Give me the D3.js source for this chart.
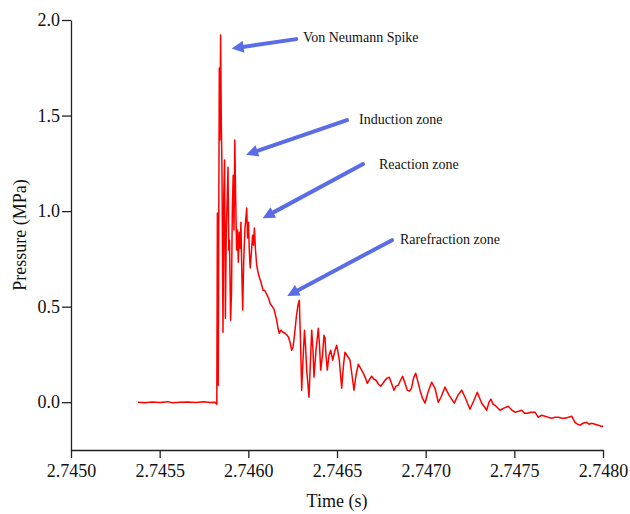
<!DOCTYPE html>
<html>
<head>
<meta charset="utf-8">
<script src="https://cdn.jsdelivr.net/npm/d3@7"></script>
<style>
  html, body { margin: 0; padding: 0; background: #fff; }
  svg text { font-family: "Liberation Serif", "Times New Roman", serif; fill: #111; }
</style>
</head>
<body>
<div id="chart"></div>
<script>
// time (s) and pressure (MPa)
const time = [
  2.7453778, 2.7454173, 2.7454568, 2.7455019, 2.7455470, 2.7455695, 2.7456147, 2.7456598,
  2.7457049, 2.7457500, 2.7457838, 2.7458120, 2.7458222, 2.7458255, 2.7458301, 2.7458363,
  2.7458396, 2.7458436, 2.7458475, 2.7458515, 2.7458571, 2.7458616, 2.7458661, 2.7458707,
  2.7458757, 2.7458808, 2.7458853, 2.7458898, 2.7458938, 2.7459000, 2.7459051, 2.7459096,
  2.7459146, 2.7459192, 2.7459237, 2.7459287, 2.7459338, 2.7459389, 2.7459434, 2.7459490,
  2.7459547, 2.7459581, 2.7459631, 2.7459682, 2.7459739, 2.7459812, 2.7459908, 2.7459958,
  2.7460009, 2.7460054, 2.7460105, 2.7460161, 2.7460240, 2.7460291, 2.7460342, 2.7460404,
  2.7460472, 2.7460545, 2.7460618, 2.7460714, 2.7460827, 2.7460911, 2.7461035, 2.7461137,
  2.7461222, 2.7461334, 2.7461447, 2.7461599, 2.7461673, 2.7461746, 2.7461842, 2.7461955,
  2.7462067, 2.7462180, 2.7462265, 2.7462350, 2.7462445, 2.7462519, 2.7462603, 2.7462716,
  2.7462801, 2.7462874, 2.7462941, 2.7463009, 2.7463082, 2.7463167, 2.7463223, 2.7463291,
  2.7463421, 2.7463505, 2.7463573, 2.7463646, 2.7463703, 2.7463816, 2.7463945, 2.7464013,
  2.7464081, 2.7464182, 2.7464267, 2.7464323, 2.7464379, 2.7464453, 2.7464549, 2.7464644,
  2.7464757, 2.7464887, 2.7464983, 2.7465056, 2.7465130, 2.7465265, 2.7465366, 2.7465451,
  2.7465592, 2.7465733, 2.7465846, 2.7465958, 2.7466071, 2.7466201, 2.7466325, 2.7466483,
  2.7466607, 2.7466708, 2.7466832, 2.7466956, 2.7467086, 2.7467199, 2.7467340, 2.7467464,
  2.7467594, 2.7467706, 2.7467819, 2.7467949, 2.7468073, 2.7468214, 2.7468327, 2.7468456,
  2.7468580, 2.7468705, 2.7468834, 2.7468964, 2.7469088, 2.7469201, 2.7469314, 2.7469438,
  2.7469567, 2.7469680, 2.7469821, 2.7469962, 2.7470131, 2.7470340, 2.7470526, 2.7470712,
  2.7470864, 2.7471090, 2.7471315, 2.7471614, 2.7471823, 2.7472032, 2.7472246, 2.7472500,
  2.7472725, 2.7472911, 2.7473159, 2.7473289, 2.7473441, 2.7473571, 2.7473684, 2.7473797,
  2.7473909, 2.7474191, 2.7474417, 2.7474659, 2.7474868, 2.7475037, 2.7475235, 2.7475415,
  2.7475573, 2.7475731, 2.7475939, 2.7476165, 2.7476351, 2.7476531, 2.7476729, 2.7476898,
  2.7477107, 2.7477293, 2.7477479, 2.7477687, 2.7477857, 2.7478054, 2.7478234, 2.7478421,
  2.7478562, 2.7478703, 2.7478872, 2.7479080, 2.7479210, 2.7479362, 2.7479548, 2.7479734,
  2.7479887, 2.7480000
];
const pressure = [
  0.000, -0.003, 0.001, -0.001, 0.003, -0.003, 0.000, 0.001,
  -0.002, 0.002, -0.001, 0.000, -0.010, 0.990, 0.089, 1.749,
  1.372, 1.921, 1.476, 1.199, 0.366, 1.084, 1.267, 0.440,
  0.901, 1.058, 1.230, 0.796, 0.848, 0.429, 0.576, 1.005,
  1.188, 0.901, 1.372, 1.058, 0.796, 0.901, 0.733, 0.890,
  0.806, 0.942, 0.691, 0.482, 0.743, 0.911, 1.016, 0.859,
  0.942, 0.796, 0.702, 0.770, 0.874, 0.822, 0.911, 0.796,
  0.717, 0.681, 0.654, 0.628, 0.586, 0.586, 0.565, 0.545,
  0.518, 0.503, 0.487, 0.429, 0.387, 0.361, 0.377, 0.366,
  0.361, 0.351, 0.340, 0.314, 0.272, 0.288, 0.351, 0.455,
  0.508, 0.534, 0.325, 0.063, 0.220, 0.377, 0.298, 0.168,
  0.026, 0.220, 0.377, 0.272, 0.131, 0.272, 0.387, 0.298,
  0.168, 0.246, 0.351, 0.335, 0.246, 0.168, 0.246, 0.272,
  0.220, 0.272, 0.298, 0.262, 0.220, 0.073, 0.194, 0.262,
  0.241, 0.220, 0.141, 0.063, 0.141, 0.199, 0.178, 0.152,
  0.126, 0.099, 0.120, 0.136, 0.120, 0.115, 0.094, 0.084,
  0.099, 0.115, 0.126, 0.131, 0.099, 0.063, 0.084, 0.089,
  0.115, 0.136, 0.099, 0.063, 0.058, 0.073, 0.126, 0.152,
  0.105, 0.063, 0.021, -0.005, 0.052, 0.105, 0.073, 0.000,
  0.026, 0.079, 0.037, -0.005, 0.037, 0.063, 0.021, -0.037,
  0.010, 0.052, -0.005, -0.021, -0.042, 0.000, 0.016, -0.010,
  -0.016, -0.042, -0.031, -0.021, -0.042, -0.052, -0.047, -0.042,
  -0.058, -0.058, -0.052, -0.052, -0.079, -0.068, -0.073, -0.079,
  -0.084, -0.079, -0.079, -0.084, -0.084, -0.079, -0.073, -0.105,
  -0.115, -0.120, -0.110, -0.105, -0.115, -0.110, -0.115, -0.120,
  -0.126, -0.126
];

const xTicks = [2.7450, 2.7455, 2.7460, 2.7465, 2.7470, 2.7475, 2.7480];
const yTicks = [0.0, 0.5, 1.0, 1.5, 2.0];

// annotation labels with arrow tail / tip in data units
const noteLabels = ["Von Neumann Spike", "Induction zone", "Reaction zone", "Rarefraction zone"];
const noteTextAt = [[2.746308, 1.885], [2.746624, 1.455], [2.746737, 1.220], [2.746855, 0.827]];
const arrowTail = [[2.746270, 1.900], [2.746556, 1.476], [2.746647, 1.246], [2.746810, 0.848]];
const arrowTip = [[2.745925, 1.853], [2.745981, 1.293], [2.746071, 0.958], [2.746207, 0.550]];

const width = 630;
const height = 514;
const margin = { top: 20, right: 27, bottom: 64, left: 71 };

const svg = d3.select("#chart")
  .append("svg")
  .attr("width", width)
  .attr("height", height);

const x = d3.scaleLinear()
  .domain([2.7450, 2.7480])
  .range([margin.left, width - margin.right]);

const y = d3.scaleLinear()
  .domain([-0.25, 2.0])
  .range([height - margin.bottom, margin.top]);

const xAxis = svg.append("g")
  .attr("transform", `translate(0,${height - margin.bottom})`)
  .call(d3.axisBottom(x).tickValues(xTicks).tickFormat(d3.format(".4f"))
    .tickSize(8).tickSizeOuter(0).tickPadding(6));

const yAxis = svg.append("g")
  .attr("transform", `translate(${margin.left},0)`)
  .call(d3.axisLeft(y).tickValues(yTicks).tickFormat(d3.format(".1f"))
    .tickSize(9).tickSizeOuter(0).tickPadding(2));

[xAxis, yAxis].forEach((ax) => {
  ax.selectAll("path, line").attr("stroke", "#222").attr("stroke-width", 1.3);
  ax.selectAll("text").attr("font-size", 18).attr("fill", "#111")
    .style("font-family", "'Liberation Serif', 'Times New Roman', serif");
});

svg.append("text")
  .attr("x", (margin.left + width - margin.right) / 2)
  .attr("y", 507)
  .attr("text-anchor", "middle")
  .attr("font-size", 18)
  .text("Time (s)");

svg.append("text")
  .attr("transform", `translate(26,${y(0.875)}) rotate(-90)`)
  .attr("text-anchor", "middle")
  .attr("font-size", 18)
  .text("Pressure (MPa)");

const line = d3.line()
  .x((d, i) => x(time[i]))
  .y((d) => y(d));

svg.append("path")
  .datum(pressure)
  .attr("d", line)
  .attr("fill", "none")
  .attr("stroke", "#ff0000")
  .attr("stroke-width", 1.5)
  .attr("stroke-linejoin", "round");

// arrows
svg.append("defs").append("marker")
  .attr("id", "head")
  .attr("viewBox", "0 0 10 10")
  .attr("refX", 2)
  .attr("refY", 5)
  .attr("markerUnits", "userSpaceOnUse")
  .attr("markerWidth", 13)
  .attr("markerHeight", 12)
  .attr("orient", "auto")
  .append("path")
  .attr("d", "M0,0 L10,5 L0,10 Z")
  .attr("fill", "#5a6ce6");

noteLabels.forEach((label, i) => {
  svg.append("line")
    .attr("x1", x(arrowTail[i][0]))
    .attr("y1", y(arrowTail[i][1]))
    .attr("x2", x(arrowTip[i][0]) + (x(arrowTail[i][0]) - x(arrowTip[i][0])) * 0.1)
    .attr("y2", y(arrowTip[i][1]) + (y(arrowTail[i][1]) - y(arrowTip[i][1])) * 0.1)
    .attr("stroke", "#5a6ce6")
    .attr("stroke-width", 4)
    .attr("stroke-linecap", "round")
    .attr("marker-end", "url(#head)");

  svg.append("text")
    .attr("x", x(noteTextAt[i][0]))
    .attr("y", y(noteTextAt[i][1]))
    .attr("font-size", 14)
    .text(label);
});
</script>
</body>
</html>
